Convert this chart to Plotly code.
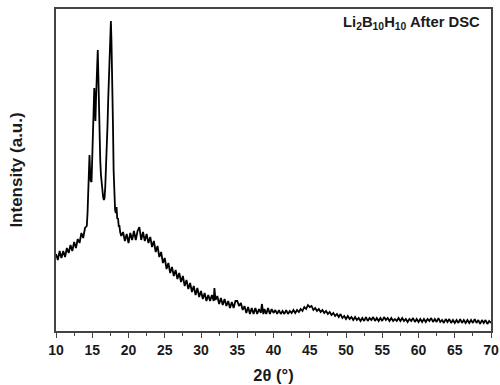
import plotly.graph_objects as go

# 2-theta (degrees) and intensity (arbitrary units)
tt_low = [10.0, 10.25, 10.5, 10.75, 11.0, 11.25, 11.5, 11.75, 12.0, 12.25, 12.5, 12.75,
          13.0, 13.25, 13.5, 13.75, 14.0, 14.25]
int_low = [77, 71, 80, 73, 80, 74, 83, 78, 86, 80, 89, 83, 92, 88, 98, 93, 103, 105]

tt_peak = [14.35, 14.45, 14.55, 14.62, 14.7, 14.78, 14.9, 15.0, 15.1, 15.2, 15.28, 15.36,
           15.44, 15.52, 15.62, 15.7, 15.76, 15.82, 15.9, 16.0, 16.1, 16.2, 16.3, 16.4,
           16.5, 16.6, 16.7, 16.8, 16.9, 17.0, 17.1, 17.2, 17.3, 17.4, 17.5, 17.57, 17.65,
           17.75, 17.85, 17.95, 18.05, 18.15, 18.25, 18.35, 18.45, 18.55, 18.65, 18.75, 18.85]
int_peak = [118, 141, 168, 176, 160, 150, 149, 170, 201, 230, 243, 224,
            210, 232, 255, 275, 281, 262, 225, 190, 171, 156, 146, 139,
            134, 131, 133, 145, 160, 181, 205, 231, 258, 282, 300, 310, 290,
            261, 210, 160, 131, 121, 118, 124, 112, 113, 105, 105, 99]

tt_mid = [19.0, 19.25, 19.5, 19.75, 20.0, 20.25, 20.5, 20.75, 21.0, 21.25, 21.5, 21.75,
          22.0, 22.25, 22.5, 22.75, 23.0, 23.25, 23.5, 23.75, 24.0, 24.25, 24.5, 24.75,
          25.0, 25.25, 25.5, 25.75, 26.0, 26.25, 26.5, 26.75, 27.0, 27.25, 27.5, 27.75,
          28.0, 28.25, 28.5, 28.75, 29.0, 29.25, 29.5, 29.75, 30.0, 30.25, 30.5, 30.75,
          31.0, 31.25, 31.5, 31.75, 31.85, 32.0, 32.25, 32.5, 32.75, 33.0, 33.25, 33.5,
          33.75, 34.0, 34.25, 34.5, 34.75, 35.0, 35.25, 35.5, 35.75, 36.0, 36.25, 36.5,
          36.75, 37.0, 37.25, 37.5, 37.75, 38.0, 38.25, 38.4, 38.6, 38.75, 39.0, 39.25,
          39.5, 39.75]
int_mid = [95, 99, 90, 97, 88, 98, 91, 100, 91, 100, 104, 91,
           99, 90, 97, 88, 94, 84, 90, 79, 85, 74, 79, 68,
           73, 62, 68, 58, 64, 55, 61, 52, 58, 49, 55, 45,
           51, 42, 48, 39, 45, 36, 43, 34, 40, 32, 38, 30,
           36, 30, 36, 30, 43, 31, 35, 27, 33, 26, 32, 25,
           30, 23, 29, 23, 30, 30, 25, 28, 21, 25, 18, 24,
           17, 23, 17, 23, 17, 22, 18, 27, 17, 22, 17, 23,
           17, 22]

tt_high = [40.0, 40.25, 40.5, 40.75, 41.0, 41.25, 41.5, 41.75, 42.0, 42.25, 42.5, 42.75,
           43.0, 43.25, 43.5, 43.75, 44.0, 44.25, 44.5, 44.75, 45.0, 45.25, 45.5, 45.75,
           46.0, 46.25, 46.5, 46.75, 47.0, 47.25, 47.5, 47.75, 48.0, 48.25, 48.5, 48.75,
           49.0, 49.25, 49.5, 49.75, 50.0, 50.25, 50.5, 50.75, 51.0, 51.25, 51.5, 51.75,
           52.0, 52.25, 52.5, 52.75, 53.0, 53.25, 53.5, 53.75, 54.0, 54.25, 54.5, 54.75,
           55.0, 55.25, 55.5, 55.75, 56.0, 56.25, 56.5, 56.75, 57.0, 57.25, 57.5, 57.75,
           58.0, 58.25, 58.5, 58.75, 59.0, 59.25, 59.5, 59.75, 60.0, 60.25, 60.5, 60.75,
           61.0, 61.25, 61.5, 61.75, 62.0, 62.25, 62.5, 62.75, 63.0, 63.25, 63.5, 63.75,
           64.0, 64.25, 64.5, 64.75, 65.0, 65.25, 65.5, 65.75, 66.0, 66.25, 66.5, 66.75,
           67.0, 67.25, 67.5, 67.75, 68.0, 68.25, 68.5, 68.75, 69.0, 69.25, 69.5, 69.75,
           70.0]
int_high = [18, 21, 17, 21, 17, 20, 17, 21, 17, 20, 18, 21,
            18, 21, 19, 22, 20, 24, 22, 26, 24, 25, 21, 23,
            20, 22, 19, 21, 18, 20, 17, 19, 16, 18, 15, 17,
            14, 17, 13, 15, 12, 15, 12, 14, 11, 14, 11, 13,
            10, 13, 10, 14, 10, 13, 11, 14, 10, 13, 10, 13,
            10, 14, 11, 13, 10, 13, 10, 12, 10, 13, 10, 13,
            10, 12, 9, 12, 10, 13, 9, 12, 9, 12, 9, 12,
            9, 12, 10, 13, 9, 12, 9, 13, 9, 11, 8, 12,
            9, 12, 8, 11, 8, 11, 8, 12, 8, 11, 8, 11,
            8, 11, 8, 12, 8, 11, 7, 11, 8, 11, 7, 10,
            8]

two_theta = tt_low + tt_peak + tt_mid + tt_high
intensity = int_low + int_peak + int_mid + int_high

x_ticks = [10, 15, 20, 25, 30, 35, 40, 45, 50, 55, 60, 65, 70]

FONT = "Liberation Sans, Arial, sans-serif"
FRAME = "#444444"
TEXT = "#1a1a1a"

fig = go.Figure()
fig.add_trace(go.Scatter(x=two_theta, y=intensity, mode="lines",
                         line=dict(color="black", width=1.8), showlegend=False,
                         hoverinfo="skip"))

fig.update_layout(
    width=500, height=385,
    margin=dict(l=56, r=9, t=9, b=54),
    paper_bgcolor="white", plot_bgcolor="white",
    font=dict(family=FONT, color=TEXT),
    xaxis=dict(
        range=[10, 70], tickvals=x_ticks,
        ticktext=[f"<b>{v}</b>" for v in x_ticks],
        ticks="outside", ticklen=5, tickwidth=1.3, tickcolor=FRAME,
        minor=dict(dtick=2.5, tick0=10, ticks="outside", ticklen=3, tickcolor=FRAME, tickwidth=1.3),
        showline=True, linecolor=FRAME, linewidth=1.6, mirror=True,
        showgrid=False, zeroline=False, automargin=False,
        tickfont=dict(size=14, family=FONT, color=TEXT),
        title=dict(text="<b>2θ (°)</b>", font=dict(size=16.5, family=FONT, color=TEXT), standoff=13),
    ),
    yaxis=dict(
        range=[0, 322], showticklabels=False, ticks="",
        showline=True, linecolor=FRAME, linewidth=1.6, mirror=True,
        showgrid=False, zeroline=False, automargin=False,
        title=dict(text="<b>Intensity (a.u.)</b>", font=dict(size=17, family=FONT, color=TEXT), standoff=27),
    ),
    annotations=[dict(
        text="<b>Li<sub>2</sub>B<sub>10</sub>H<sub>10</sub> After DSC</b>",
        xref="paper", yref="paper", x=0.979, y=0.992, xanchor="right", yanchor="top",
        showarrow=False, font=dict(size=14.8, family=FONT, color=TEXT),
    )],
)

fig.write_html("out.html")
